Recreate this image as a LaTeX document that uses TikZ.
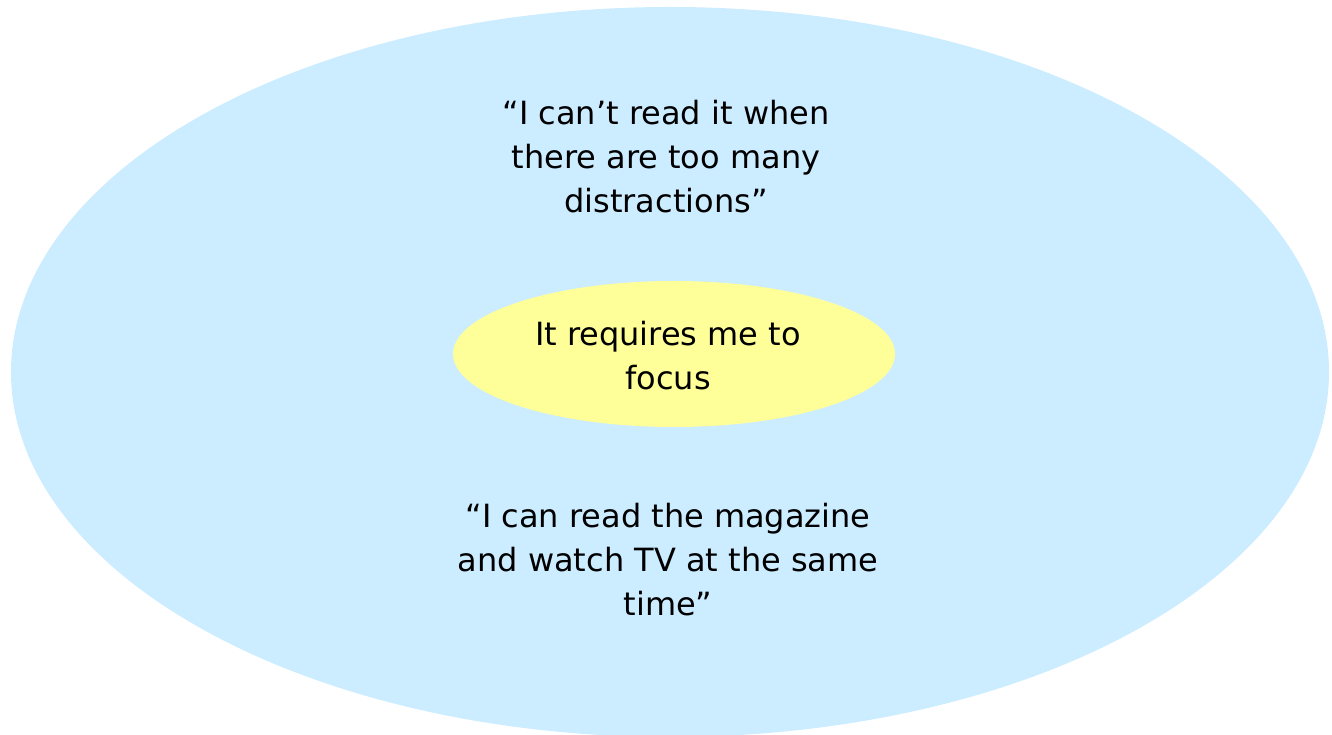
\documentclass[tikz,border=0pt]{standalone}
\usepackage{fontspec}
\setmainfont{DejaVu Sans}
\usetikzlibrary{shapes.geometric, positioning}
\definecolor{skyblue}{HTML}{CCECFF}
\definecolor{paleyellow}{HTML}{FFFF99}

\begin{document}
\begin{tikzpicture}[
        x=1pt, y=1pt,
        oval/.style={ellipse, inner sep=0pt},
        quote/.style={align=center, font=\fontsize{32}{44}\selectfont, inner sep=0pt}
    ]
    \useasboundingbox (0,0) rectangle (1332,735);

    % --- Nodes ---
    \node[oval, fill=skyblue, minimum width=1318pt, minimum height=730pt] (outer) at (670,363) {};
    \node[oval, fill=paleyellow, minimum width=442pt, minimum height=146pt] (focus) at (674,381) {};
    \node[quote] (focustext) at (668,379) {It requires me to\\focus};
    \node[quote] (distract) at (666,578) {“I can’t read it when\\there are too many\\distractions”};
    \node[quote] (multitask) at (668,175) {“I can read the magazine\\and watch TV at the same\\time”};

\end{tikzpicture}
\end{document}
